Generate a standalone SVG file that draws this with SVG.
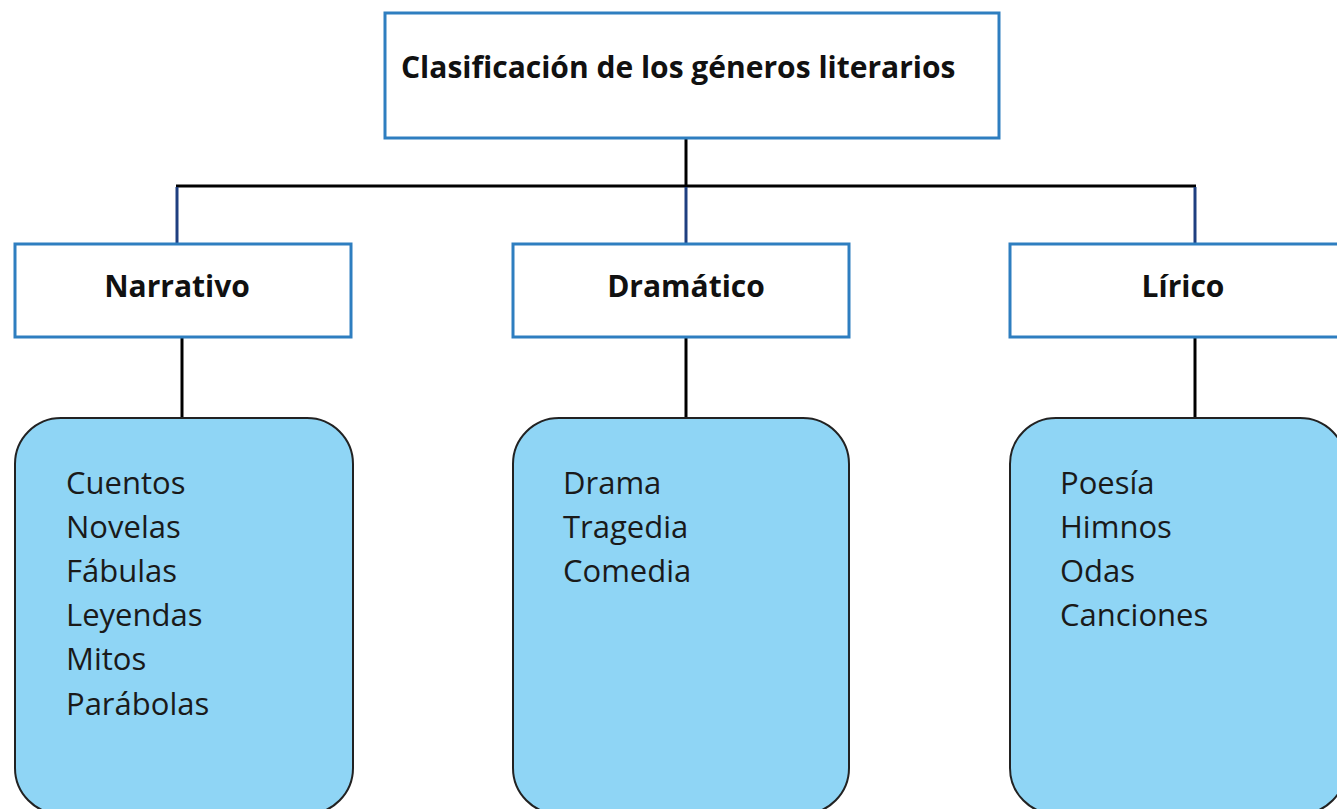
<svg xmlns="http://www.w3.org/2000/svg" width="1337" height="809" viewBox="0 0 1337 809">
<style>
.box{fill:#fff;stroke:#2E7EC0;stroke-width:3}
.list{fill:#8FD5F5;stroke:#222;stroke-width:2}
.t{font-family:"Open Sans","Liberation Sans",sans-serif;font-weight:bold;font-size:30px;fill:#111}
.i{font-family:"Open Sans","Liberation Sans",sans-serif;font-size:31px;fill:#1a1a1a}
.c{fill:none;stroke:#000;stroke-width:3}
.cb{fill:none;stroke:#1F3F80;stroke-width:3}
</style>
<rect width="1337" height="809" fill="#fff"/>
<g id="connectors">
<line class="c" x1="686" y1="138" x2="686" y2="186"/>
<line class="c" x1="176" y1="186" x2="1196" y2="186"/>
<line class="cb" x1="177" y1="187" x2="177" y2="243"/>
<line class="cb" x1="686" y1="187" x2="686" y2="243"/>
<line class="cb" x1="1195" y1="187" x2="1195" y2="243"/>
<line class="c" x1="182" y1="337" x2="182" y2="418"/>
<line class="c" x1="686" y1="337" x2="686" y2="418"/>
<line class="c" x1="1195" y1="337" x2="1195" y2="418"/>
</g>
<g id="root">
<rect class="box" x="385" y="13" width="614" height="125"/>
<text class="t" x="401" y="78">Clasificación de los géneros literarios</text>
</g>
<g id="narrativo">
<rect class="box" x="15" y="244" width="336" height="93"/>
<text class="t" x="177" y="297" text-anchor="middle">Narrativo</text>
</g>
<g id="dramatico">
<rect class="box" x="513" y="244" width="336" height="93"/>
<text class="t" x="686" y="297" text-anchor="middle">Dramático</text>
</g>
<g id="lirico">
<rect class="box" x="1010" y="244" width="336" height="93"/>
<text class="t" x="1183" y="297" text-anchor="middle">Lírico</text>
</g>
<g id="narrativo-list">
<rect class="list" x="15" y="418" width="338" height="396" rx="46" ry="46"/>
<text class="i" x="66" y="494">Cuentos</text>
<text class="i" x="66" y="538">Novelas</text>
<text class="i" x="66" y="582">Fábulas</text>
<text class="i" x="66" y="626">Leyendas</text>
<text class="i" x="66" y="670">Mitos</text>
<text class="i" x="66" y="715">Parábolas</text>
</g>
<g id="dramatico-list">
<rect class="list" x="513" y="418" width="336" height="396" rx="46" ry="46"/>
<text class="i" x="563" y="494">Drama</text>
<text class="i" x="563" y="538">Tragedia</text>
<text class="i" x="563" y="582">Comedia</text>
</g>
<g id="lirico-list">
<rect class="list" x="1010" y="418" width="336" height="396" rx="46" ry="46"/>
<text class="i" x="1060" y="494">Poesía</text>
<text class="i" x="1060" y="538">Himnos</text>
<text class="i" x="1060" y="582">Odas</text>
<text class="i" x="1060" y="626">Canciones</text>
</g>
</svg>
